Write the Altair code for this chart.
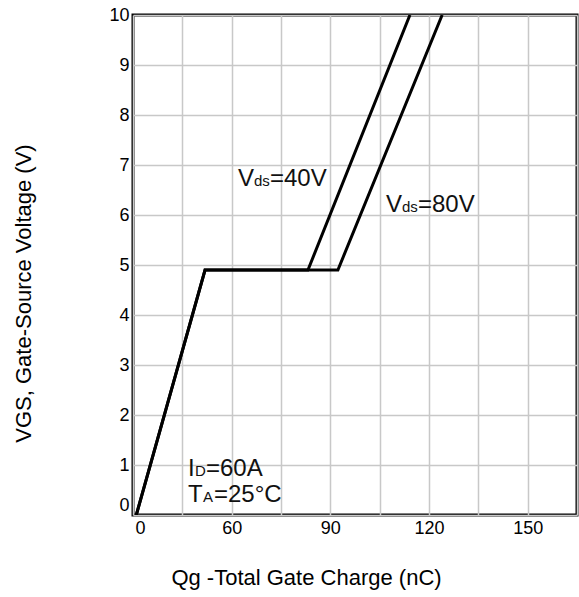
import altair as alt
import pandas as pd

# Curve data (Qg in nC, Vgs in V)
q_40v = [31.0, 51.9, 83.2, 114.2]
v_40v = [0.0, 4.9, 4.9, 10.0]
q_80v = [31.0, 51.9, 92.3, 124.0]
v_80v = [0.0, 4.9, 4.9, 10.0]

# Axis ticks and labels
x_grid = [30, 45, 60, 75, 90, 105, 120, 135, 150, 165]
x_tick_values = [30, 60, 90, 120, 150]
x_tick_labels = ["0", "60", "90", "120", "150"]
y_grid = [i * 0.5 for i in range(21)]
y_tick_values = [0, 1, 2, 3, 4, 5, 6, 7, 8, 9, 10]
y_tick_labels = ["0", "1", "2", "3", "4", "5", "6", "7", "8", "9", "10"]

# Annotation pieces: text, x, y, font size, horizontal shift
ann_text = ["V", "ds", "=40V", "V", "ds", "=80V", "I", "D", "=60A", "T", "A", "=25°C"]
ann_x = [61.9, 61.9, 61.9, 106.9, 106.9, 106.9, 46.7, 46.7, 46.7, 46.7, 46.7, 46.7]
ann_y = [6.58, 6.58, 6.58, 6.06, 6.06, 6.06, 0.78, 0.78, 0.78, 0.26, 0.26, 0.26]
ann_size = [24, 15, 24, 24, 15, 24, 24, 15, 24, 24, 15, 24]
ann_dx = [0, 16, 32, 0, 16, 32, 0, 7, 18, 0, 15, 26]

curves = pd.DataFrame({
    "q": q_40v + q_80v,
    "v": v_40v + v_80v,
    "series": ["Vds=40V"] * len(q_40v) + ["Vds=80V"] * len(q_80v),
    "order": list(range(len(q_40v))) + list(range(len(q_80v))),
})
ann = pd.DataFrame({"text": ann_text, "q": ann_x, "v": ann_y,
                    "size": ann_size, "dx": ann_dx})

label_map = "{" + ",".join(f"'{v}':'{l}'" for v, l in zip(x_tick_values, x_tick_labels)) + "}"
x_label_expr = f"({label_map})[''+datum.value] || ''"
y_label_map = "{" + ",".join(f"'{v}':'{l}'" for v, l in zip(y_tick_values, y_tick_labels)) + "}"
y_label_expr = f"({y_label_map})[''+datum.value] || ''"

FONT = "Liberation Sans"

x_scale = alt.Scale(domain=[30, 165], nice=False, zero=False)
y_scale = alt.Scale(domain=[0, 10], nice=False)

x_axis = alt.Axis(
    values=x_grid, labelExpr=x_label_expr, title="Qg -Total Gate Charge (nC)",
    grid=True, gridColor="#c8c8c8", gridWidth=1.5, ticks=False, domain=False,
    labelFont=FONT, labelFontSize=18, labelColor="#000", labelPadding=4,
    labelFlush=False, labelOverlap=False, labelBound=False,
    labelOffset={"condition": {"test": "datum.value == 30", "value": 7}, "value": 0},
    titleFont=FONT, titleFontSize=22, titleFontWeight="normal", titleColor="#000",
    titleX=173, titleY=62, titleAlign="center", titleBaseline="middle", titleAnchor="start",
)
y_axis = alt.Axis(
    values=y_grid, labelExpr=y_label_expr, title="VGS, Gate-Source Voltage (V)",
    grid=True, gridColor="#c8c8c8", gridWidth=1.5, ticks=False, domain=False,
    labelFont=FONT, labelFontSize=18, labelColor="#000", labelPadding=4,
    labelFlush=False, labelOverlap=False, labelBound=False,
    labelOffset={"condition": {"test": "datum.value == 0", "value": -10}, "value": 0},
    titleFont=FONT, titleFontSize=22, titleFontWeight="normal", titleColor="#000",
    titleX=-110, titleY=278, titleAlign="center", titleBaseline="middle", titleAnchor="start",
)

lines = alt.Chart(curves).mark_line(color="black", strokeWidth=3, clip=True).encode(
    x=alt.X("q:Q", scale=x_scale, axis=x_axis),
    y=alt.Y("v:Q", scale=y_scale, axis=y_axis),
    detail="series:N",
    order="order:Q",
)

layers = [lines]
for (s, d), grp in ann.groupby(["size", "dx"]):
    layers.append(
        alt.Chart(grp).mark_text(
            align="left", baseline="alphabetic", font=FONT, color="#111",
            fontSize=int(s), dx=int(d),
        ).encode(
            x=alt.X("q:Q", scale=x_scale),
            y=alt.Y("v:Q", scale=y_scale),
            text="text:N",
        )
    )

chart = alt.layer(*layers).properties(
    width=444, height=500,
    background="white",
    autosize=alt.AutoSizeParams(type="none"),
    padding={"left": 133, "top": 15, "right": 2, "bottom": 82},
).configure_view(stroke="black", strokeWidth=3)

chart.save("out.html", embed_options={"renderer": "svg", "actions": False})
